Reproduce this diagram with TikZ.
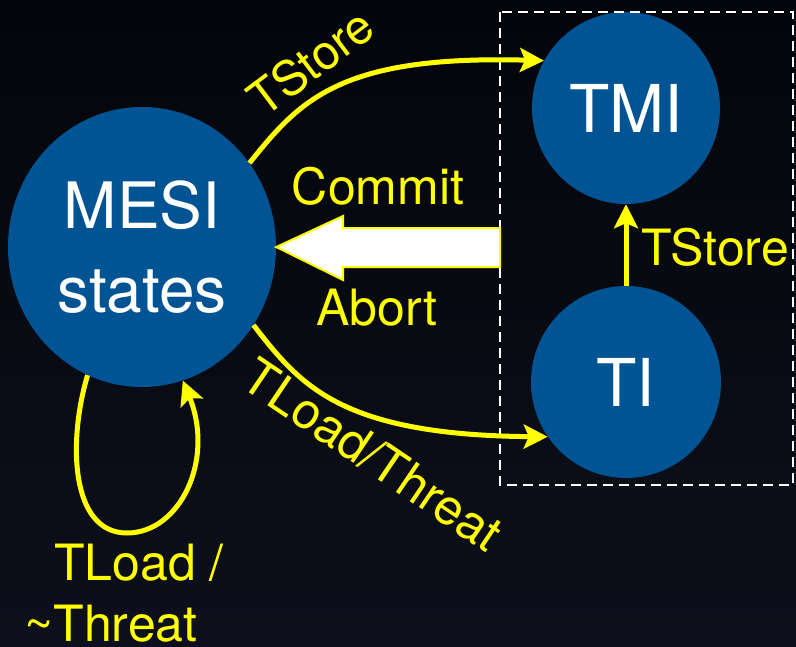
\documentclass[tikz,border=0pt]{standalone}
\usepackage{fontspec}
\setmainfont{TeX Gyre Heros}
\usetikzlibrary{shapes.geometric,arrows.meta}
\definecolor{bgtop}{RGB}{4,5,10}
\definecolor{bgbot}{RGB}{13,16,28}
\definecolor{stateblue}{RGB}{0,84,147}
\definecolor{ylw}{RGB}{255,255,0}
\tikzset{
  statenode/.style={ellipse, fill=stateblue, inner sep=0pt, text=white,
    font=\fontsize{64}{84}\selectfont, align=center},
  yarrow/.style={draw=ylw, line width=5pt,
    -{Stealth[length=24pt,width=24pt,inset=5pt]}},
  ylabel/.style={text=ylw, inner sep=0pt, font=\fontsize{50}{60}\selectfont},
  dashbox/.style={draw=white, line width=2pt, dash pattern=on 10pt off 6pt},
  bigarrow/.style={fill=white, draw=ylw, line width=2pt, line join=miter}
}
\begin{document}
\begin{tikzpicture}[x=1pt,y=-1pt]
  % background
  \useasboundingbox (0,0) rectangle (796,646);
  \shade[top color=bgtop, bottom color=bgbot] (0,0) rectangle (796,646);

  % states
  \node[statenode, minimum width=268pt, minimum height=280pt] (mesi) at (142,247)
    {MESI\\states};
  \node[statenode, minimum width=188pt, minimum height=192pt,
    font=\fontsize{66}{80}\selectfont] (tmi) at (626,108) {TMI};
  \node[statenode, minimum width=190pt, minimum height=192pt,
    font=\fontsize{66}{80}\selectfont] (ti) at (626,382) {TI};

  % transactional group frame
  \coordinate (boxnw) at (500,12);
  \coordinate (boxse) at (793,485);
  \draw[dashbox] (boxnw) rectangle (boxse);

  % commit / abort arrow back to MESI
  \coordinate (tipc) at (mesi.east);
  \draw[bigarrow] (tipc) -- (343,216) -- (343,228) -- (500,228) -- (500,267)
    -- (343,267) -- (343,280) -- cycle;

  % transitions
  \draw[yarrow] (mesi.38) .. controls (300,100) and (340,55) .. (tmi.150);
  \draw[yarrow] (mesi.-35) .. controls (300,385) and (340,435) .. (ti.-145);
  \draw[yarrow] (ti.north) -- (tmi.south);
  \draw[yarrow] (mesi.-113) .. controls (68,440) and (70,533) .. (127,533)
    .. controls (180,533) and (215,460) .. (mesi.-73);

  % labels
  \node[ylabel, rotate=37, font=\fontsize{48}{58}\selectfont] (lts1) at (311,62) {TStore};
  \node[ylabel, anchor=base] (lcommit) at (378,204) {Commit};
  \node[ylabel, anchor=base] (labort) at (377,325) {Abort};
  \node[ylabel, anchor=base] (lts2) at (715,265) {TStore};
  \node[ylabel, rotate=-34] (ltl) at (373,455) {TLoad/Threat};
  \node[ylabel, anchor=base] (lloop1) at (139,580) {TLoad /};
  \node[ylabel, anchor=base] (lloop2) at (111,641) {\textasciitilde Threat};
\end{tikzpicture}
\end{document}
